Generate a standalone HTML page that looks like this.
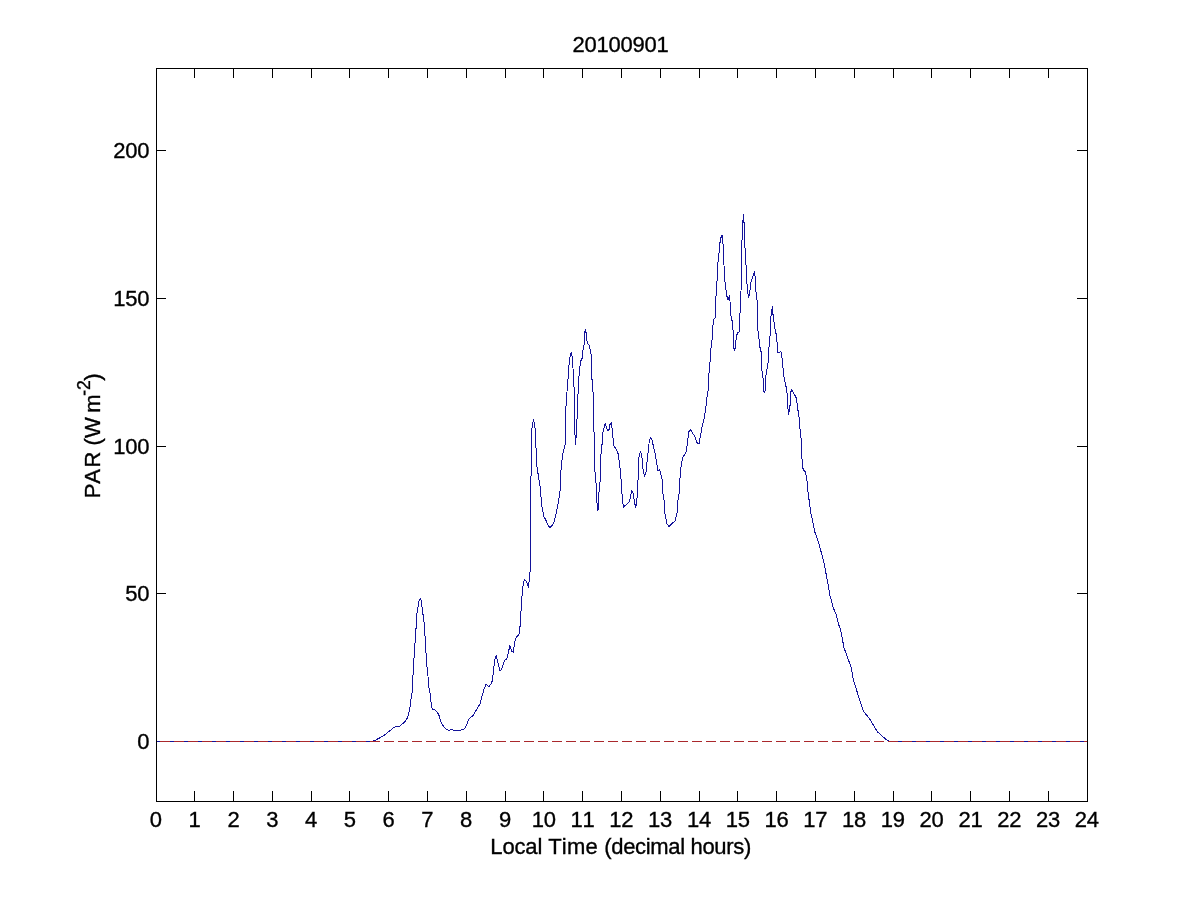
<!DOCTYPE html>
<html lang="en">
<head>
<meta charset="utf-8">
<title>20100901</title>
<style>
html,body{margin:0;padding:0;background:#fff;}
body{width:1201px;height:900px;overflow:hidden;}
svg{display:block;}
text{font-family:"Liberation Sans",Arial,Helvetica,sans-serif;font-size:22px;fill:#000;stroke:#000;stroke-width:0.35px;font-kerning:none;}
</style>
</head>
<body>
<svg width="1201" height="900" viewBox="0 0 1201 900">
<rect x="0" y="0" width="1201" height="900" fill="#ffffff"/>
<g fill="#000" shape-rendering="crispEdges">
<rect x="156" y="68" width="932" height="1"/>
<rect x="156" y="801" width="932" height="1"/>
<rect x="156" y="68" width="1" height="734"/>
<rect x="1087" y="68" width="1" height="734"/>
<rect x="194" y="69" width="1" height="9"/><rect x="194" y="791" width="1" height="10"/>
<rect x="233" y="69" width="1" height="9"/><rect x="233" y="791" width="1" height="10"/>
<rect x="272" y="69" width="1" height="9"/><rect x="272" y="791" width="1" height="10"/>
<rect x="311" y="69" width="1" height="9"/><rect x="311" y="791" width="1" height="10"/>
<rect x="349" y="69" width="1" height="9"/><rect x="349" y="791" width="1" height="10"/>
<rect x="388" y="69" width="1" height="9"/><rect x="388" y="791" width="1" height="10"/>
<rect x="427" y="69" width="1" height="9"/><rect x="427" y="791" width="1" height="10"/>
<rect x="466" y="69" width="1" height="9"/><rect x="466" y="791" width="1" height="10"/>
<rect x="505" y="69" width="1" height="9"/><rect x="505" y="791" width="1" height="10"/>
<rect x="543" y="69" width="1" height="9"/><rect x="543" y="791" width="1" height="10"/>
<rect x="582" y="69" width="1" height="9"/><rect x="582" y="791" width="1" height="10"/>
<rect x="621" y="69" width="1" height="9"/><rect x="621" y="791" width="1" height="10"/>
<rect x="660" y="69" width="1" height="9"/><rect x="660" y="791" width="1" height="10"/>
<rect x="699" y="69" width="1" height="9"/><rect x="699" y="791" width="1" height="10"/>
<rect x="737" y="69" width="1" height="9"/><rect x="737" y="791" width="1" height="10"/>
<rect x="776" y="69" width="1" height="9"/><rect x="776" y="791" width="1" height="10"/>
<rect x="815" y="69" width="1" height="9"/><rect x="815" y="791" width="1" height="10"/>
<rect x="854" y="69" width="1" height="9"/><rect x="854" y="791" width="1" height="10"/>
<rect x="893" y="69" width="1" height="9"/><rect x="893" y="791" width="1" height="10"/>
<rect x="931" y="69" width="1" height="9"/><rect x="931" y="791" width="1" height="10"/>
<rect x="970" y="69" width="1" height="9"/><rect x="970" y="791" width="1" height="10"/>
<rect x="1009" y="69" width="1" height="9"/><rect x="1009" y="791" width="1" height="10"/>
<rect x="1048" y="69" width="1" height="9"/><rect x="1048" y="791" width="1" height="10"/>
<rect x="157" y="741" width="9" height="1"/><rect x="1077" y="741" width="10" height="1"/>
<rect x="157" y="593" width="9" height="1"/><rect x="1077" y="593" width="10" height="1"/>
<rect x="157" y="446" width="9" height="1"/><rect x="1077" y="446" width="10" height="1"/>
<rect x="157" y="298" width="9" height="1"/><rect x="1077" y="298" width="10" height="1"/>
<rect x="157" y="150" width="9" height="1"/><rect x="1077" y="150" width="10" height="1"/>
</g>
<g fill="none" shape-rendering="crispEdges">
<polyline stroke="#13139a" stroke-width="1" stroke-linejoin="round" points="157,741.5 371,741.5 375,740.4 384.2,735.4 391.7,729.2 395.4,726.5 399.2,726.5 404.2,722.5 406.7,719.2 408.3,715.4 410,706.7 411.25,696.7 412.5,690 412.9,677.5 413.5,665 415.4,638 417.1,612 419.2,600 420.8,598 421.7,605 424.2,623 425.4,642 426.7,665 427.7,672 428.75,687 430.4,695 431.25,704.2 432.5,710 434.2,709.2 437.5,712.5 439.2,715.8 440.4,720.8 444.2,727.5 448.3,730.4 451.9,729.6 453.75,730.6 459.4,730.6 464.4,728.75 466.25,725.6 468.75,719 473.1,715.6 476.25,710 480,703.75 483.75,690 486,684.4 489,686.5 491.25,683.75 492.5,680 494,666.25 495,658.75 496.25,655.6 498.1,663.75 500,671.25 501.25,670 504.4,660.6 506.9,659 508.75,650.6 510,645.6 511.5,651.25 513.1,652.25 515,641.25 516.25,636.9 518.5,635.25 519.6,633 520.6,617.5 521.9,597.5 523.1,585 524.4,579.75 526.25,581.25 528.5,587.5 529.75,573.75 530.4,570 530.7,522 530.95,479 532,428 533.5,419.4 534.75,425 535.6,435 536.5,463.75 540,486.25 541.9,506.25 543.75,516.25 546.5,521.25 548.1,525.6 550,527.5 552.5,525 554.4,521.25 556.25,512.5 558.1,503.75 560.6,487.5 560.9,471.25 561.9,461.25 562.9,453.75 565,445.6 565.5,420 566.25,400 567.5,386.25 569.4,360 570.6,353.75 571.25,352.5 572.75,358.75 573.5,386.25 574.6,387.5 574.75,428.75 575.4,444.4 576.25,436.25 576.5,426.25 577.3,415 578.4,382.5 579.4,371.25 580.6,361.25 582.25,358.1 583.4,345.6 584.4,344.4 584.6,332.5 585.4,329.4 586.25,333.75 587.25,343.1 589.4,345.6 590.25,350.6 591.5,356.9 591.9,378.75 592.75,385 593.1,395 593.75,396.25 593.9,431 594.3,434 594.75,468.75 596.25,485.6 597.25,508.75 597.9,510.6 598.75,507.5 598.75,495 600,482.5 600.6,457.5 601.9,446.25 602.75,433 603.75,428.75 605.25,423.5 606.25,426.9 607.75,430.6 609.4,429.4 610,424.4 611.25,422.5 612.1,428.75 613.75,445.6 616.25,449.4 618.4,454.4 619.4,463.75 620.6,472.5 621.9,492.5 623.4,507.5 625,505.6 629.4,501.9 630.6,496.25 631.9,490.6 633.1,493.1 634.4,501.25 635.6,507.5 636.9,502.5 637.5,480.6 638.5,478.75 638.75,458.75 639.75,453.75 640.6,451.25 641.7,455 643.1,470 644.6,476.5 646,472.5 647.75,455 649.4,440 650.6,437.5 652.1,440 653.5,446.9 655,452.5 657.9,470.6 658.75,471 659.75,469.4 660.6,473.75 662.25,480 662.9,493.75 664.4,502.5 665,513.75 666.9,523.75 669,526.6 671.9,523.75 675.25,520.6 677.1,512.5 677.75,501.25 679.1,493.75 679.75,481.25 680.6,470 682.5,458.1 686.25,451.9 687.5,442.5 688.75,431.9 690.4,429.4 691.9,431.9 695,436.9 697.5,443.75 699,443.75 700.6,435 702.1,426.25 703.6,421.5 705.6,410 706.9,397.5 708.5,388.75 708.75,375 709.75,366.9 710.6,350 711.9,342.5 712.5,328.75 713.75,319.4 715.4,317.5 715.9,297.5 716.9,283.1 717.9,263.1 719.1,252.5 719.9,243.1 721.25,236.25 722.1,235 722.9,241.25 723.75,260 724.75,280 726.25,291.25 727.25,298.1 728.1,300 729.4,295.6 730,301.25 730.3,310 731.25,317.5 732.5,322.5 733.4,336.25 733.75,348.75 734.6,350.25 735.25,347.5 736.25,337.5 737.5,332.5 739,331.9 739.9,315 741.0,291.25 741.8,241 742.5,238.75 742.75,223.1 743.5,215 744,222.5 744.6,223.1 745,247.5 745.9,262.5 746.9,282.5 748.1,295 748.5,297.5 749.75,292.5 750.6,283.75 752.5,277.5 754.4,271.9 755.25,277.5 755.6,291.25 756.6,293.1 757.5,307.5 757.6,327.5 758.75,336.25 760,347.5 761.25,352.5 761.9,370 763.5,381.25 763.75,391.25 764.6,392.5 765.4,390 765.4,378.75 766.9,370 768.1,362.5 769,347.5 770,336.25 771,316.25 771.9,310 772.5,306.25 772.9,313.75 775,329.4 776.5,335.6 777.9,352.5 779,353.1 780.25,351.5 781.5,352.5 782.5,363.75 784.4,380.6 785.6,383.75 787.5,396.25 788.1,411.25 788.75,414.75 789.6,406.25 790.4,405 790.6,392.5 791.9,389.4 793.1,392.5 795.6,396.25 796.6,399.4 798.1,411.25 799.75,422 800,428.75 801,437.5 801.5,453.75 803.1,469.4 805.4,471.9 806.9,480 808.1,492.5 809.4,502.5 810.6,512 812,518.3 814.7,531.7 818.3,541.7 823.3,559.7 826.7,577 830,595.7 833.3,607.7 836,614.3 838.7,624.6 840.7,630.3 844,647.7 851.3,667.7 853.3,679.7 858.7,697 863.7,711.7 869.3,718.3 877.3,731.7 886.7,740 889.3,741.5 1087,741.5"/>
<line x1="156" y1="741.5" x2="1087" y2="741.5" stroke="#aa282c" stroke-width="1" stroke-dasharray="10 4" stroke-dashoffset="10"/>
</g>
<g text-anchor="middle" letter-spacing="-0.23">
<text x="155.8" y="826.7">0</text>
<text x="194.6" y="826.7">1</text>
<text x="233.4" y="826.7">2</text>
<text x="272.2" y="826.7">3</text>
<text x="311.0" y="826.7">4</text>
<text x="349.8" y="826.7">5</text>
<text x="388.6" y="826.7">6</text>
<text x="427.3" y="826.7">7</text>
<text x="466.1" y="826.7">8</text>
<text x="504.9" y="826.7">9</text>
<text x="543.7" y="826.7">10</text>
<text x="582.5" y="826.7">11</text>
<text x="621.3" y="826.7">12</text>
<text x="660.1" y="826.7">13</text>
<text x="698.9" y="826.7">14</text>
<text x="737.7" y="826.7">15</text>
<text x="776.5" y="826.7">16</text>
<text x="815.3" y="826.7">17</text>
<text x="854.0" y="826.7">18</text>
<text x="892.8" y="826.7">19</text>
<text x="931.6" y="826.7">20</text>
<text x="970.4" y="826.7">21</text>
<text x="1009.2" y="826.7">22</text>
<text x="1048.0" y="826.7">23</text>
<text x="1086.8" y="826.7">24</text>
</g>
<g text-anchor="end" letter-spacing="-0.23">
<text x="149.3" y="748.7">0</text>
<text x="149.3" y="600.7">50</text>
<text x="149.3" y="453.7">100</text>
<text x="149.3" y="305.7">150</text>
<text x="149.3" y="157.7">200</text>
</g>
<text x="620.6" y="52" text-anchor="middle" letter-spacing="-0.23">20100901</text>
<text x="490.3" y="854"><tspan letter-spacing="-0.14">Local </tspan><tspan letter-spacing="0.22">Time </tspan><tspan letter-spacing="-0.33">(decimal hours)</tspan></text>
<text transform="translate(100.4,498.3) rotate(-90)" text-anchor="start">PA<tspan dx="1.5">R (W </tspan><tspan dx="-1.5">m</tspan><tspan dx="-1.4" dy="-10.5" font-size="17.6px">-2</tspan><tspan dx="-0.7" dy="10.5">)</tspan></text>
</svg>
</body>
</html>
